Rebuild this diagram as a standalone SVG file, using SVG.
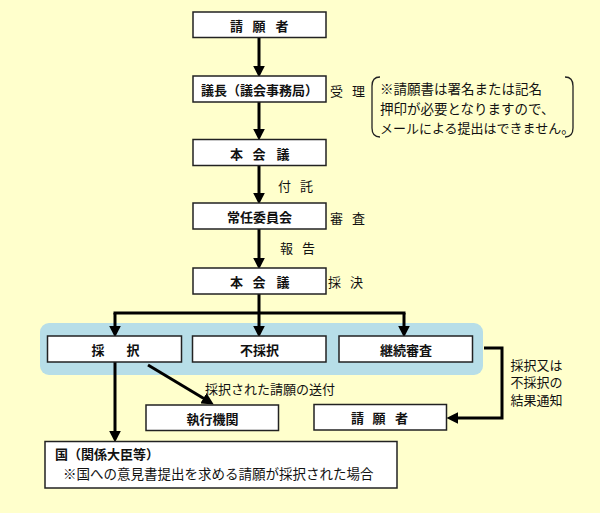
<svg xmlns="http://www.w3.org/2000/svg" width="600" height="513" viewBox="0 0 600 513">
<defs>
<style>
.bx{fill:#fff;stroke:#222;stroke-width:1.5}
.t{font-family:"Noto Sans CJK JP","Noto Sans CJK SC",sans-serif;font-size:13px;fill:#111;dominant-baseline:central}
.l{font-size:13.5px}
.b{font-weight:bold}
.c{fill:none;stroke:#000;stroke-width:3}
.br{fill:none;stroke:#222;stroke-width:1.3}
</style>
<marker id="ah" markerUnits="userSpaceOnUse" markerWidth="12" markerHeight="12" viewBox="0 0 10 10" refX="2" refY="5" orient="auto">
<path d="M0,0 L10,5 L0,10 z" fill="#000"/>
</marker>
</defs>
<rect width="600" height="513" fill="#FFFFCC"/>
<rect id="group-band" x="40" y="323" width="443" height="52" rx="9" fill="#B7DEE8"/>
<g id="connectors">
<line class="c" x1="259" y1="37" x2="259" y2="68" marker-end="url(#ah)"/>
<line class="c" x1="259" y1="102" x2="259" y2="131" marker-end="url(#ah)"/>
<line class="c" x1="259" y1="166" x2="259" y2="195" marker-end="url(#ah)"/>
<line class="c" x1="259" y1="229" x2="259" y2="260" marker-end="url(#ah)"/>
<path class="c" d="M259,294 V313 M113.5,313 H405.5"/>
<line class="c" x1="115" y1="313" x2="115" y2="328" marker-end="url(#ah)"/>
<line class="c" x1="259" y1="313" x2="259" y2="328" marker-end="url(#ah)"/>
<line class="c" x1="404" y1="313" x2="404" y2="328" marker-end="url(#ah)"/>
<line class="c" x1="115" y1="362" x2="115" y2="433" marker-end="url(#ah)"/>
<line class="c" x1="148" y1="365" x2="205.5" y2="399.5" marker-end="url(#ah)"/>
<path class="c" d="M484,348 H502 V418 H456" marker-end="url(#ah)"/>
</g>
<g id="n-petitioner">
<rect class="bx" x="193" y="12" width="133" height="25.5"/>
<text class="t b" x="230 252.5 275.5" y="25">請願者</text>
</g>
<g id="n-chair">
<rect class="bx" x="193" y="76" width="133" height="26"/>
<text class="t b" x="259.5" y="89" text-anchor="middle">議長（議会事務局）</text>
</g>
<text class="t" x="330 352" y="90">受理</text>
<g id="n-note">
<path class="br" d="M380,77 Q372,77 372,86 V128 Q372,137 380,137"/>
<path class="br" d="M565,77 Q573,77 573,86 V128 Q573,137 565,137"/>
<text class="t l" x="380" y="88">※請願書は署名または記名</text>
<text class="t l" x="380" y="108">押印が必要となりますので、</text>
<text class="t" x="380" y="127.5">メールによる提出はできません。</text>
</g>
<g id="n-plenary1">
<rect class="bx" x="193" y="139.5" width="133" height="26"/>
<text class="t b" x="230 252.5 276.5" y="153">本会議</text>
</g>
<text class="t" x="278 300" y="185">付託</text>
<g id="n-committee">
<rect class="bx" x="193" y="203" width="133" height="26"/>
<text class="t b" x="259.5" y="216.5" text-anchor="middle">常任委員会</text>
</g>
<text class="t" x="330 352" y="217">審査</text>
<text class="t" x="280 302" y="247.5">報告</text>
<g id="n-plenary2">
<rect class="bx" x="193" y="268" width="133" height="26"/>
<text class="t b" x="230 252.5 276.5" y="281.5">本会議</text>
</g>
<text class="t" x="328 350" y="281.5">採決</text>
<g id="n-adopt">
<rect class="bx" x="47.5" y="336" width="134" height="26"/>
<text class="t b" x="91.5 126.5" y="349.5">採択</text>
</g>
<g id="n-reject">
<rect class="bx" x="192.5" y="336" width="133.5" height="26"/>
<text class="t b" x="259.5" y="349.5" text-anchor="middle">不採択</text>
</g>
<g id="n-continue">
<rect class="bx" x="339" y="336" width="133.5" height="26"/>
<text class="t b" x="406" y="349.5" text-anchor="middle">継続審査</text>
</g>
<text class="t" x="205" y="388">採択された請願の送付</text>
<g id="n-exec">
<rect class="bx" x="146" y="405" width="132.5" height="25.5"/>
<text class="t b" x="212.5" y="418" text-anchor="middle">執行機関</text>
</g>
<g id="n-petitioner2">
<rect class="bx" x="314" y="404.5" width="132.5" height="25.5"/>
<text class="t b" x="351 372.5 395" y="417.5">請願者</text>
</g>
<text class="t" x="510.5" y="364">採択又は</text>
<text class="t" x="510.5" y="381.5">不採択の</text>
<text class="t" x="510.5" y="399.5">結果通知</text>
<g id="n-state">
<rect class="bx" x="45" y="441.5" width="352" height="46.5"/>
<text class="t b" x="55" y="453.5">国（関係大臣等）</text>
<text class="t l" x="63" y="473">※国への意見書提出を求める請願が採択された場合</text>
</g>
</svg>
